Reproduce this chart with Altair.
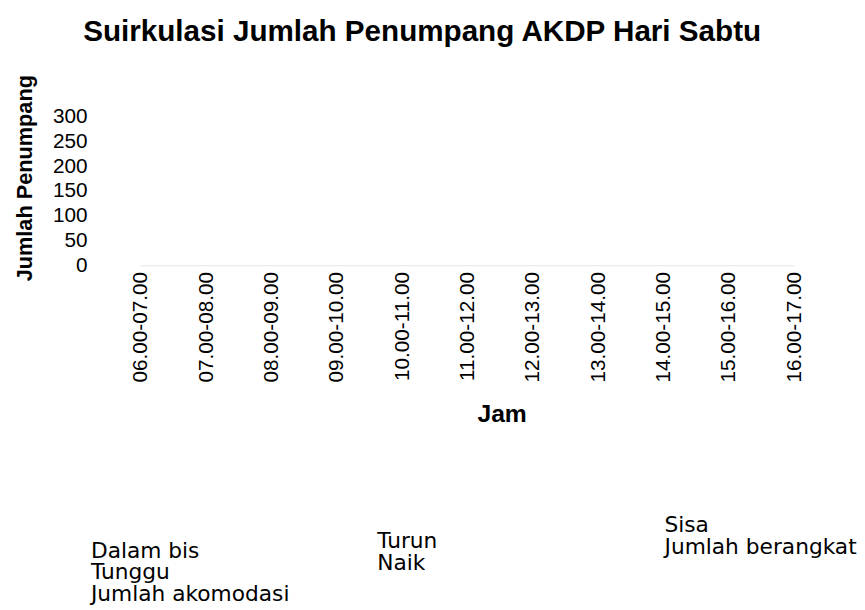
import altair as alt
import pandas as pd

hours = ["06.00-07.00", "07.00-08.00", "08.00-09.00", "09.00-10.00", "10.00-11.00",
         "11.00-12.00", "12.00-13.00", "13.00-14.00", "14.00-15.00", "15.00-16.00",
         "16.00-17.00"]

# The scanned lines are almost invisible; they lie at the zero level.
dalam_bis = [0, 0, 0, 0, 0, 0, 0, 0, 0, 0, 0]
tunggu = [0, 0, 0, 0, 0, 0, 0, 0, 0, 0, 0]
jumlah_akomodasi = [0, 0, 0, 0, 0, 0, 0, 0, 0, 0, 0]
turun = [0, 0, 0, 0, 0, 0, 0, 0, 0, 0, 0]
naik = [0, 0, 0, 0, 0, 0, 0, 0, 0, 0, 0]
sisa = [0, 0, 0, 0, 0, 0, 0, 0, 0, 0, 0]
jumlah_berangkat = [0, 0, 0, 0, 0, 0, 0, 0, 0, 0, 0]

group_a = ["Dalam bis", "Tunggu", "Jumlah akomodasi"]
group_b = ["Turun", "Naik"]
group_c = ["Sisa", "Jumlah berangkat"]
y_ticks = [0, 50, 100, 150, 200, 250, 300]

series = {
    "Dalam bis": dalam_bis, "Tunggu": tunggu, "Jumlah akomodasi": jumlah_akomodasi,
    "Turun": turun, "Naik": naik, "Sisa": sisa, "Jumlah berangkat": jumlah_berangkat,
}
rows = []
for name, vals in series.items():
    for h, v in zip(hours, vals):
        rows.append({"jam": h, "series": name, "value": v})
df = pd.DataFrame(rows)

x_enc = alt.X("jam:N", sort=hours,
              scale=alt.Scale(type="point", padding=0.69),
              axis=alt.Axis(title="Jam", labelAngle=-90, labelFontSize=21,
                            labelFont="Liberation Sans", labelColor="#000",
                            labelPadding=6, ticks=False, domain=False, grid=False,
                            titleFont="Liberation Sans", titleFontSize=25,
                            titleFontWeight="bold", titleColor="#000",
                            titleX=411, titleY=150, titleBaseline="middle",
                            titleAlign="center"))
y_enc = alt.Y("value:Q", scale=alt.Scale(domain=[0, 300], nice=False),
              axis=alt.Axis(title="Jumlah Penumpang", values=y_ticks, labelFontSize=21,
                            labelFont="Liberation Sans", labelColor="#000",
                            labelPadding=9, ticks=False, domain=False, grid=False,
                            titleFont="Liberation Sans", titleFontSize=22,
                            titleFontWeight="bold", titleColor="#000",
                            titleAngle=-90, titleX=-72, titleY=62,
                            titleBaseline="middle", titleAlign="center"))


def legend(x, y):
    return alt.Legend(title=None, orient="none", legendX=x, legendY=y,
                      symbolSize=0, symbolOpacity=0, symbolStrokeWidth=0,
                      labelOffset=0, labelFont="DejaVu Sans", labelFontSize=22,
                      labelColor="#000", labelLimit=400, rowPadding=-6)


def layer(group, x, y):
    return alt.Chart(df).transform_filter(
        alt.FieldOneOfPredicate(field="series", oneOf=group)
    ).mark_line(strokeWidth=1).encode(
        x=x_enc, y=y_enc,
        color=alt.Color("series:N", sort=group,
                        scale=alt.Scale(domain=group, range=["#ededed"] * len(group)),
                        legend=legend(x, y)),
    )


chart = alt.layer(
    layer(group_a, -27, 429),
    layer(group_b, 263, 419),
    layer(group_c, 554, 403),
).resolve_scale(color="independent").properties(
    width=753, height=151,
    padding={"left": 5, "top": 5, "right": 0, "bottom": 0},
    title=alt.TitleParams("Suirkulasi Jumlah Penumpang AKDP Hari Sabtu",
                          font="Liberation Sans", fontSize=30, fontWeight="bold",
                          color="#000", anchor="middle", dx=-46, offset=28),
).configure_view(stroke=None)

chart.save("out.html", embed_options={"renderer": "svg", "actions": False})
